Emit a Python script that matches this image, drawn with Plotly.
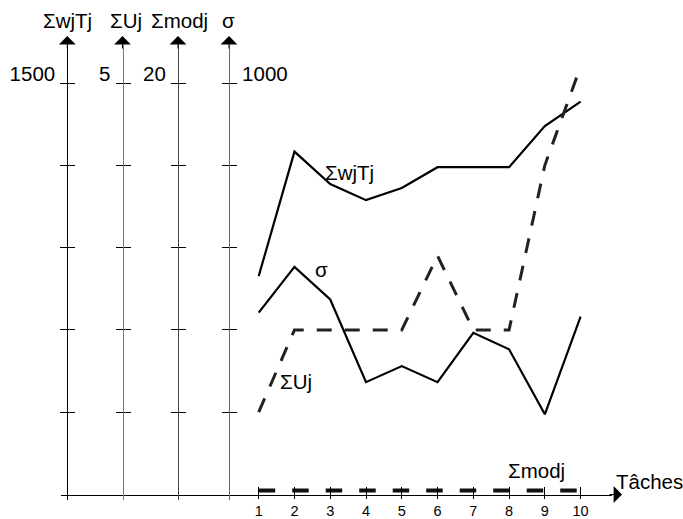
import plotly.graph_objects as go

# ---------------- data ----------------
tasks = [1, 2, 3, 4, 5, 6, 7, 8, 9, 10]
task_labels = ["1", "2", "3", "4", "5", "6", "7", "8", "9", "10"]

sum_wjtj = [796, 1250, 1132, 1073, 1117, 1193, 1193, 1193, 1343, 1432]
sigma = [442, 553, 474, 273, 312, 273, 393, 353, 195, 432]
sum_uj = [1.0, 2.0, 2.0, 2.0, 2.0, 2.9, 2.0, 2.0, 4.0, 5.2]
sum_modj = [0.2, 0.2, 0.2, 0.2, 0.2, 0.2, 0.2, 0.2, 0.2, 0.2]

wjtj_ticks = [300, 600, 900, 1200, 1500]
uj_ticks = [1, 2, 3, 4, 5]
modj_ticks = [4, 8, 12, 16, 20]
sigma_ticks = [200, 400, 600, 800, 1000]
wjtj_ticktext = ["", "", "", "", "1500"]
uj_ticktext = ["", "", "", "", "5"]
modj_ticktext = ["", "", "", "", "20"]
sigma_ticktext = ["", "", "", "", "1000"]

# ---------------- geometry ----------------
W, H = 683, 519
T, B = 45, 19
PLOT_H = H - T - B
Y0_PX, YTOP_PX = 494.5, 83.0
FONT = "Liberation Sans, Arial, sans-serif"


def yrange(top):
    per = top / (Y0_PX - YTOP_PX)
    return [-(H - B - Y0_PX) * per, top + (YTOP_PX - T) * per]


def ypaper(px):
    return (H - B - px) / PLOT_H


def xpaper(px):
    return px / W


X_L, X_R = 61.0, 612.0
T1_PX, T10_PX = 258.7, 580.6
s = (T10_PX - T1_PX) / 9
xr = [1 - (T1_PX - X_L) / s, 10 + (X_R - T10_PX) / s]

fig = go.Figure()

fig.add_trace(go.Scatter(x=tasks, y=sum_wjtj, mode="lines", yaxis="y",
                         line=dict(color="#000", width=2.2), hoverinfo="skip"))
fig.add_trace(go.Scatter(x=tasks, y=sigma, mode="lines", yaxis="y4",
                         line=dict(color="#000", width=2.2), hoverinfo="skip"))
fig.add_trace(go.Scatter(x=tasks, y=sum_uj, mode="lines", yaxis="y2",
                         line=dict(color="#222", width=3, dash="15px,13px"), hoverinfo="skip"))
fig.add_trace(go.Scatter(x=tasks, y=sum_modj, mode="lines", yaxis="y3",
                         line=dict(color="#111", width=4, dash="16.5px,17px"), hoverinfo="skip"))
# empty traces so the duplicate tick axes are drawn
for ya in ["y5", "y6", "y7", "y8"]:
    fig.add_trace(go.Scatter(x=[], y=[], yaxis=ya, hoverinfo="skip"))
fig.add_trace(go.Scatter(x=[], y=[], xaxis="x2", yaxis="y", hoverinfo="skip"))

axes = [
    ("yaxis", 67.3, 1500, wjtj_ticks, wjtj_ticktext, "left", "#000"),
    ("yaxis2", 122.5, 5, uj_ticks, uj_ticktext, "left", "#777"),
    ("yaxis3", 178.0, 20, modj_ticks, modj_ticktext, "left", "#444"),
    ("yaxis4", 229.0, 1000, sigma_ticks, sigma_ticktext, "right", "#666"),
]
layout_axes = {}
for i, (name, px, top, tv, tt, side, col) in enumerate(axes):
    d = dict(range=yrange(top), anchor="free", position=xpaper(px), side=side,
             showline=True, linecolor=col, linewidth=1, ticks="outside", ticklen=7,
             tickcolor="#000", tickwidth=1, tickvals=tv, ticktext=tt, automargin=False,
             showgrid=False, zeroline=False, ticklabelshift=-9, ticklabelstandoff=1,
             tickfont=dict(size=20.5, color="#000", family=FONT))
    if name != "yaxis":
        d["overlaying"] = "y"
    layout_axes[name] = d
    dup = dict(range=yrange(top), anchor="free", position=xpaper(px), side=side,
               overlaying="y", showline=False, ticks="inside", ticklen=7, automargin=False,
               tickcolor="#000", tickwidth=1, tickvals=tv, showticklabels=False,
               showgrid=False, zeroline=False)
    layout_axes["yaxis%d" % (i + 5)] = dup

xpos = ypaper(Y0_PX)
layout_axes["xaxis"] = dict(domain=[X_L / W, X_R / W], range=xr, anchor="free", position=xpos,
                            showline=True, linecolor="#000", linewidth=1, ticks="outside",
                            ticklen=3, tickcolor="#000", tickvals=tasks, ticktext=task_labels,
                            tickfont=dict(size=14.5, color="#000", family=FONT), automargin=False,
                            showgrid=False, zeroline=False)
layout_axes["xaxis2"] = dict(overlaying="x", range=xr, anchor="free", position=xpos,
                             showline=False, ticks="inside", ticklen=8, tickcolor="#000",
                             automargin=False, tickvals=tasks, showticklabels=False,
                             showgrid=False, zeroline=False)

ann = []
top_labels = [("ΣwjTj", 67.5), ("ΣUj", 126.0), ("Σmodj", 179.0), ("σ", 228.0)]
for txt, cx in top_labels:
    ann.append(dict(text=txt, xref="paper", yref="paper", x=xpaper(cx), y=ypaper(21),
                    showarrow=False, xanchor="center", yanchor="middle",
                    font=dict(size=20.5, color="#000", family=FONT)))
for _, px, *_rest in axes:
    ann.append(dict(text="", xref="paper", yref="paper", x=xpaper(px), y=ypaper(36),
                    ax=0, ay=14, showarrow=True, arrowhead=1, arrowsize=2.8,
                    arrowwidth=1, arrowcolor="#000"))
ann.append(dict(text="", xref="paper", yref="paper", x=xpaper(622), y=xpos,
                ax=-14, ay=0, showarrow=True, arrowhead=1, arrowsize=2.8,
                arrowwidth=1, arrowcolor="#000"))

line_labels = [("ΣwjTj", 3.544, 1172, "y"), ("σ", 2.742, 548, "y4"),
               ("ΣUj", 2.029, 1.379, "y2"), ("Σmodj", 8.772, 1.19, "y3")]
for txt, xv, yv, yref in line_labels:
    ann.append(dict(text=txt, xref="x", yref=yref, x=xv, y=yv, showarrow=False,
                    xanchor="center", yanchor="middle",
                    font=dict(size=20.5, color="#000", family=FONT)))
ann.append(dict(text="Tâches", xref="paper", yref="paper", x=xpaper(649.3), y=ypaper(481.5),
                showarrow=False, xanchor="center", yanchor="middle",
                font=dict(size=20.5, color="#000", family=FONT)))

fig.update_layout(width=W, height=H, margin=dict(l=0, r=0, t=T, b=B, pad=0, autoexpand=False),
                  paper_bgcolor="white", plot_bgcolor="white", showlegend=False,
                  font=dict(family=FONT, color="#000"), annotations=ann, **layout_axes)

fig.write_html("out.html", config={"displayModeBar": False},
               post_script="document.body.style.margin='0';document.body.style.overflow='hidden';")
